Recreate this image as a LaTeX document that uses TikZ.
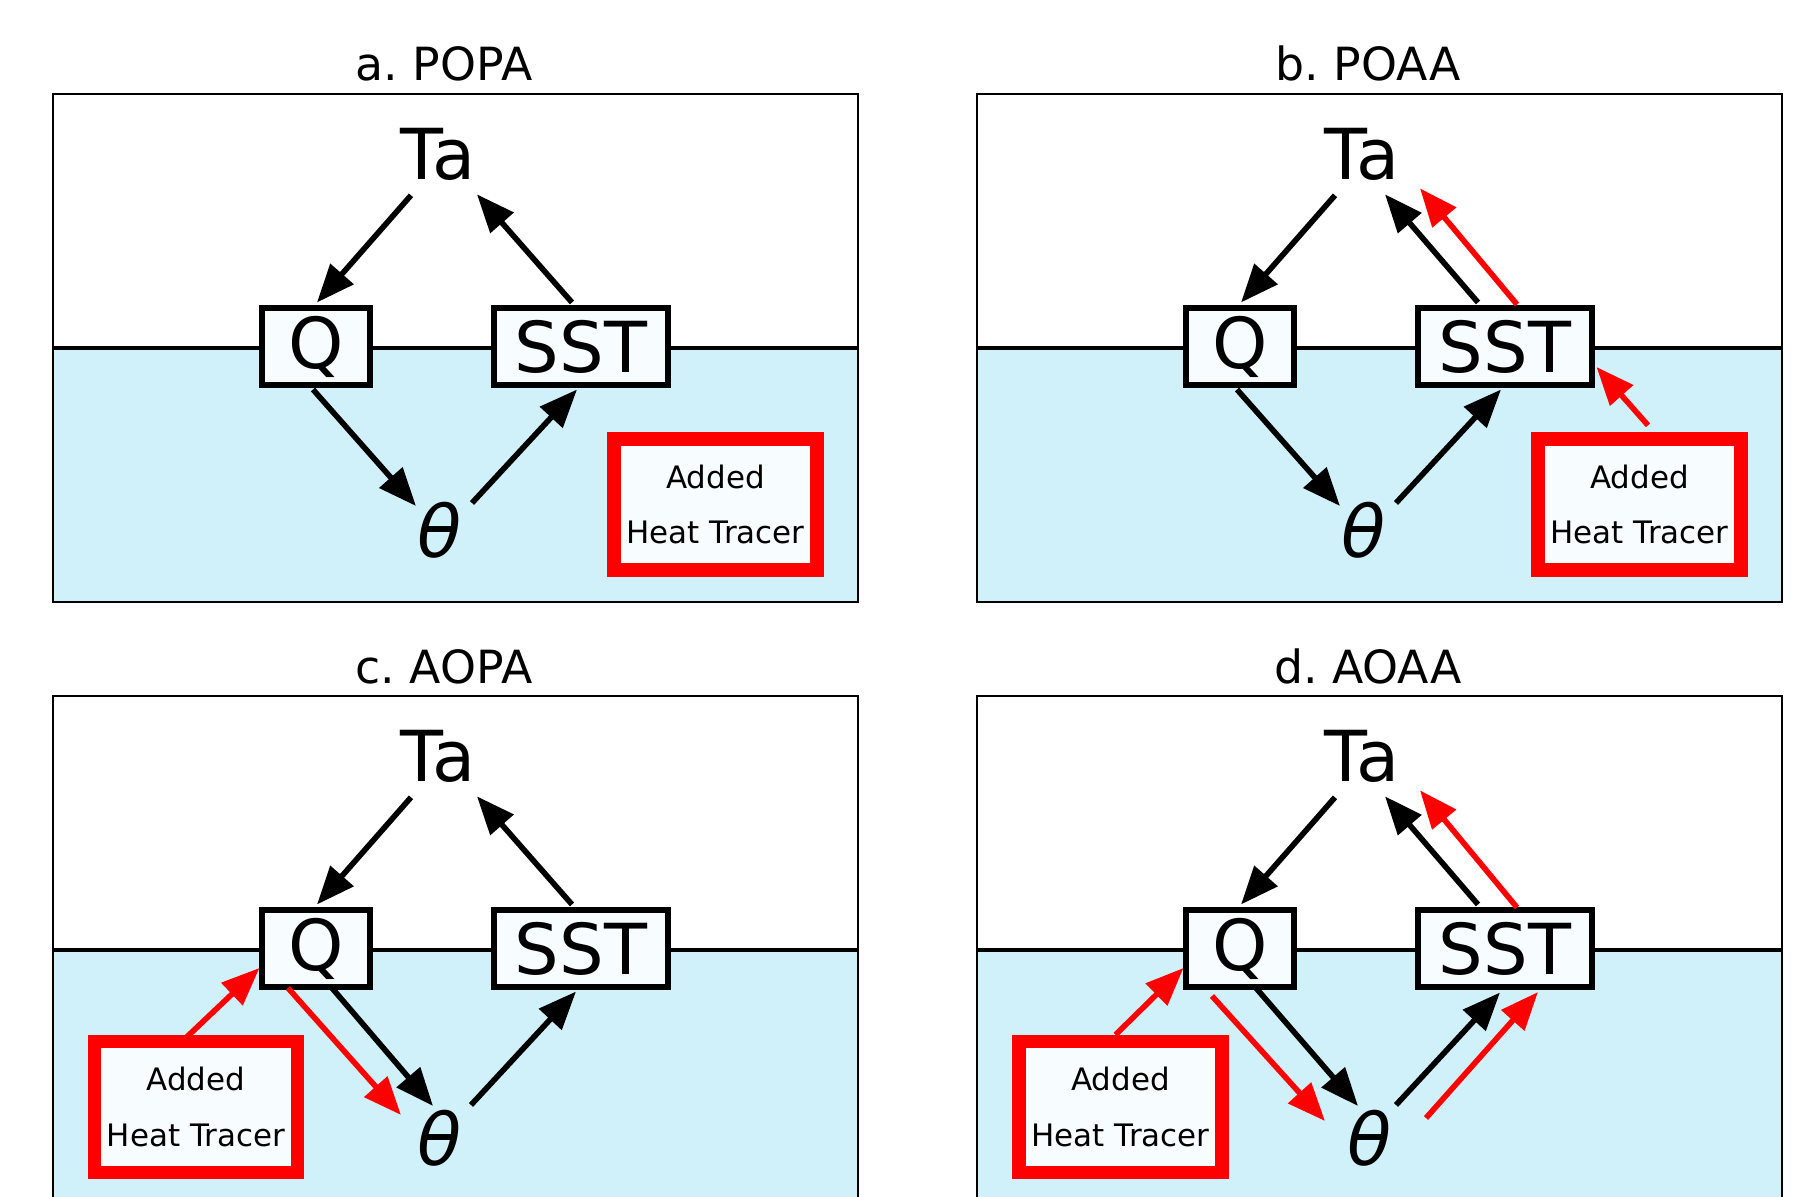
\documentclass[tikz,border=0pt]{standalone}
\usepackage{fontspec}
\setmainfont{DejaVu Sans}
\usetikzlibrary{arrows.meta}
\definecolor{sea}{RGB}{208,241,250}
\definecolor{paper}{RGB}{247,252,255}

\begin{document}
\begin{tikzpicture}[x=0.01cm, y=-0.01cm,
    panel/.style={line width=0.6pt},
    surface/.style={line width=1.1pt},
    paneltitle/.style={anchor=base, font=\fontsize{13}{15}\selectfont},
    var/.style={inner sep=0pt, font=\fontsize{20}{24}\selectfont},
    varbox/.style={draw, fill=paper, line width=1.7pt, minimum height=0.76cm, inner sep=0pt, font=\fontsize{20}{24}\selectfont},
    theta/.style={inner sep=0pt, font=\fontsize{20.5}{24}\selectfont\itshape},
    tracer/.style={draw=red, fill=paper, line width=3.8pt, minimum width=2.03cm, minimum height=1.31cm, align=center, inner sep=0pt, font=\fontsize{8.8}{15.9}\selectfont},
    arr/.style={-{Triangle[length=0.38cm, width=0.30cm]}, line width=1.6pt},
    redarr/.style={arr, red}]
    \clip (0,0) rectangle (1811,1197);

    % a. POPA
    \begin{scope}
        \fill[sea] (53,348) rectangle (858,602);
        \draw[surface] (53,348) -- (858,348);
        \draw[panel] (53,94) rectangle (858,602);
        \node[paneltitle] (title-a) at (444,81) {a.\ POPA};
        \node[var] (ta-a) at (438,154.5) {Ta};
        \node[varbox, minimum width=1.07cm] (q-a) at (316,346.5) {Q};
        \node[varbox, minimum width=1.73cm] (sst-a) at (581,346.5) {SST};
        \node[theta] (th-a) at (440,530) {θ};
        \node[tracer] (add-a) at (715.5,504.5) {Added\\Heat Tracer};

        \draw[arr] ([shift={(-27,14)}]ta-a.south) -- ([shift={(1,-3)}]q-a.north);
        \draw[arr] ([shift={(-9,-3)}]sst-a.north) -- ([shift={(39,13)}]ta-a.south);
        \draw[arr] ([shift={(-3,2)}]q-a.south) -- ([shift={(-24,-24)}]th-a.center);
        \draw[arr] ([shift={(32,-27)}]th-a.center) -- ([shift={(-4,2)}]sst-a.south);
    \end{scope}

    % b. POAA
    \begin{scope}[shift={(924,0)}]
        \fill[sea] (53,348) rectangle (858,602);
        \draw[surface] (53,348) -- (858,348);
        \draw[panel] (53,94) rectangle (858,602);
        \node[paneltitle] (title-b) at (444,81) {b.\ POAA};
        \node[var] (ta-b) at (438,154.5) {Ta};
        \node[varbox, minimum width=1.07cm] (q-b) at (316,346.5) {Q};
        \node[varbox, minimum width=1.73cm] (sst-b) at (581,346.5) {SST};
        \node[theta] (th-b) at (440,530) {θ};
        \node[tracer] (add-b) at (715.5,504.5) {Added\\Heat Tracer};

        \draw[arr] ([shift={(-27,14)}]ta-b.south) -- ([shift={(1,-3)}]q-b.north);
        \draw[arr] ([shift={(-27,-3)}]sst-b.north) -- ([shift={(23,13)}]ta-b.south);
        \draw[redarr] ([shift={(12,-1)}]sst-b.north) -- ([shift={(58,7)}]ta-b.south);
        \draw[arr] ([shift={(-3,2)}]q-b.south) -- ([shift={(-24,-24)}]th-b.center);
        \draw[arr] ([shift={(32,-27)}]th-b.center) -- ([shift={(-4,2)}]sst-b.south);
        \draw[redarr] ([shift={(8.5,-7)}]add-b.north) -- ([shift={(2,20.5)}]sst-b.east);
    \end{scope}

    % c. AOPA
    \begin{scope}[shift={(0,602)}]
        \fill[sea] (53,348) rectangle (858,602);
        \draw[surface] (53,348) -- (858,348);
        \draw[panel] (53,94) rectangle (858,602);
        \node[paneltitle] (title-c) at (444,81) {c.\ AOPA};
        \node[var] (ta-c) at (438,154.5) {Ta};
        \node[varbox, minimum width=1.07cm] (q-c) at (316,346.5) {Q};
        \node[varbox, minimum width=1.73cm] (sst-c) at (581,346.5) {SST};
        \node[theta] (th-c) at (440,536) {θ};
        \node[tracer] (add-c) at (196,505) {Added\\Heat Tracer};

        \draw[arr] ([shift={(-27,14)}]ta-c.south) -- ([shift={(1,-3)}]q-c.north);
        \draw[arr] ([shift={(-9,-3)}]sst-c.north) -- ([shift={(39,13)}]ta-c.south);
        \draw[arr] ([shift={(16,-1.5)}]q-c.south) -- ([shift={(-7,-32)}]th-c.center);
        \draw[redarr] ([shift={(-28,-1.5)}]q-c.south) -- ([shift={(-39,-23)}]th-c.center);
        \draw[arr] ([shift={(31,-33)}]th-c.center) -- ([shift={(-5,2)}]sst-c.south);
        \draw[redarr] ([shift={(-9,2)}]add-c.north) -- ([shift={(0,19.5)}]q-c.west);
    \end{scope}

    % d. AOAA
    \begin{scope}[shift={(924,602)}]
        \fill[sea] (53,348) rectangle (858,602);
        \draw[surface] (53,348) -- (858,348);
        \draw[panel] (53,94) rectangle (858,602);
        \node[paneltitle] (title-d) at (444,81) {d.\ AOAA};
        \node[var] (ta-d) at (438,154.5) {Ta};
        \node[varbox, minimum width=1.07cm] (q-d) at (316,346.5) {Q};
        \node[varbox, minimum width=1.73cm] (sst-d) at (581,346.5) {SST};
        \node[theta] (th-d) at (446,536) {θ};
        \node[tracer] (add-d) at (196.5,505) {Added\\Heat Tracer};

        \draw[arr] ([shift={(-27,14)}]ta-d.south) -- ([shift={(1,-3)}]q-d.north);
        \draw[arr] ([shift={(-27,-3)}]sst-d.north) -- ([shift={(23,13)}]ta-d.south);
        \draw[redarr] ([shift={(12,0)}]sst-d.north) -- ([shift={(58,7)}]ta-d.south);
        \draw[arr] ([shift={(16,-1.5)}]q-d.south) -- ([shift={(-12,-32)}]th-d.center);
        \draw[redarr] ([shift={(-28,6.5)}]q-d.south) -- ([shift={(-45,-17)}]th-d.center);
        \draw[arr] ([shift={(26,-33)}]th-d.center) -- ([shift={(-5,3)}]sst-d.south);
        \draw[redarr] ([shift={(56,-20)}]th-d.center) -- ([shift={(33,2.5)}]sst-d.south);
        \draw[redarr] ([shift={(-5,0)}]add-d.north) -- ([shift={(0,19.5)}]q-d.west);
    \end{scope}
\end{tikzpicture}
\end{document}
